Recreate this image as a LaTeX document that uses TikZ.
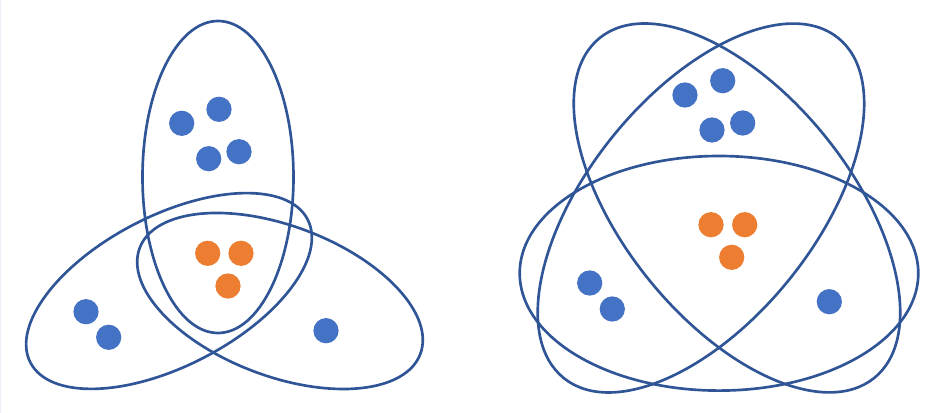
\documentclass[tikz,border=0pt]{standalone}
\usetikzlibrary{calc}
\definecolor{setline}{HTML}{2F5597}
\definecolor{dotblue}{HTML}{4472C4}
\definecolor{dotorange}{HTML}{ED7D31}
\definecolor{edgeline}{HTML}{ECEEF8}
\tikzset{
  setellipse/.style={draw=setline, line width=2pt},
  bdot/.style={circle, fill=dotblue, draw=none, minimum size=19pt, inner sep=0pt},
  odot/.style={circle, fill=dotorange, draw=none, minimum size=19pt, inner sep=0pt},
}
\begin{document}
\begin{tikzpicture}[x=0.0264583cm, y=-0.0264583cm]
\useasboundingbox (0,0) rectangle (948,413);
\draw[edgeline, line width=0.75pt] (0.5,0) -- (0.5,413);
% ---------- left diagram ----------
\coordinate (L1c) at (218,177);
\coordinate (L2c) at (169,291);
\coordinate (L3c) at (280,301);
\draw[setellipse] (L1c) ellipse [x radius=75.5, y radius=156];
\draw[setellipse, rotate around={27.3:(L2c)}] (L2c) ellipse [x radius=156, y radius=75.2];
\draw[setellipse, rotate around={-20.7:(L3c)}] (L3c) ellipse [x radius=150, y radius=75.1];
\node[bdot] (lb1) at (181.7,123.3) {};
\node[bdot] (lb2) at (219,109.3) {};
\node[bdot] (lb3) at (208.7,158.7) {};
\node[bdot] (lb4) at (239,151.7) {};
\node[bdot] (lb5) at (86,311.7) {};
\node[bdot] (lb6) at (108.7,337.3) {};
\node[bdot] (lb7) at (326,330.7) {};
\node[odot] (lo1) at (207.7,253.3) {};
\node[odot] (lo2) at (241,253.3) {};
\node[odot] (lo3) at (228,286) {};
% ---------- right diagram ----------
\coordinate (R1c) at (719,273.3);
\coordinate (R2c) at (737,208);
\coordinate (R3c) at (701,208);
\draw[setellipse] (R1c) ellipse [x radius=199.3, y radius=117.3];
\draw[setellipse, rotate around={-51.1:(R2c)}] (R2c) ellipse [x radius=218.5, y radius=113.6];
\draw[setellipse, rotate around={51.1:(R3c)}] (R3c) ellipse [x radius=218.5, y radius=113.6];
\node[bdot] (rb1) at (685,95) {};
\node[bdot] (rb2) at (722.7,80.7) {};
\node[bdot] (rb3) at (712,130) {};
\node[bdot] (rb4) at (742.7,123) {};
\node[bdot] (rb5) at (589.7,283) {};
\node[bdot] (rb6) at (612.3,309) {};
\node[bdot] (rb7) at (829.3,301.7) {};
\node[odot] (ro1) at (711,224.7) {};
\node[odot] (ro2) at (744.7,224.7) {};
\node[odot] (ro3) at (731.7,257.3) {};
\end{tikzpicture}
\end{document}
